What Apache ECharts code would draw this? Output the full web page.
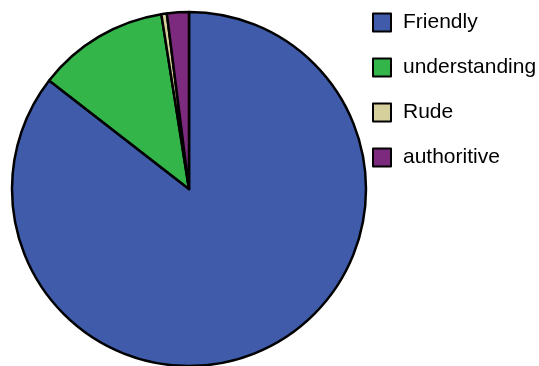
<!DOCTYPE html>
<html>
<head>
<meta charset="utf-8">
<script src="https://cdn.jsdelivr.net/npm/echarts@6/dist/echarts.min.js"></script>
<style>
    html, body { margin: 0; padding: 0; background: #fff; }
    #chart { width: 539px; height: 366px; }
</style>
</head>
<body>
<div id="chart"></div>
<script>
const categories = ['Friendly', 'understanding', 'Rude', 'authoritive'];
const values     = [171, 24, 1, 4];
const colors     = ['#3F5BAA', '#33B54A', '#D6D19C', '#7C2A7E'];

const chart = echarts.init(document.getElementById('chart'));

chart.setOption({
    animation: false,
    legend: {
        orient:     'vertical',
        left:       372,
        top:        12,
        padding:    0,
        itemWidth:  18,
        itemHeight: 18,
        itemGap:    24,
        icon:       'rect',
        itemStyle:  { borderColor: '#000', borderWidth: 2 },
        textStyle:  {
            fontFamily: 'Liberation Sans',
            fontSize:   21,
            lineHeight: 21,
            color:      '#000',
            padding:    [0, 0, 0, 7],
        },
        data: categories,
    },
    series: [{
        type:       'pie',
        center:     [189, 189],
        radius:     177,
        startAngle: 90,
        clockwise:  true,
        label:      { show: false },
        labelLine:  { show: false },
        emphasis:   { disabled: true },
        itemStyle:  { borderColor: '#000', borderWidth: 2.5 },
        data: categories.map((name, i) => ({
            name:      name,
            value:     values[i],
            itemStyle: { color: colors[i] },
        })),
    }],
});
</script>
</body>
</html>
